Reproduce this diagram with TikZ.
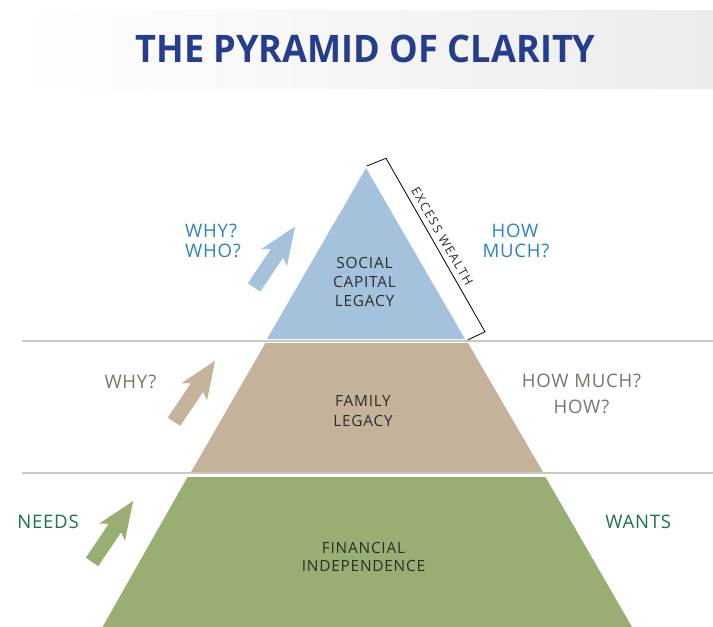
\documentclass[tikz,border=0pt]{standalone}
\usepackage{fontspec}
\setmainfont{Open Sans}
\usepackage{graphicx}
\definecolor{titleblue}{HTML}{253D8D}
\definecolor{bluefill}{HTML}{A4C2DC}
\definecolor{tanfill}{HTML}{C4B39A}
\definecolor{greenfill}{HTML}{98AE73}
\definecolor{bluetext}{HTML}{2A84C2}
\definecolor{tantext}{HTML}{7B746B}
\definecolor{greentext}{HTML}{1B744A}
\definecolor{darktext}{HTML}{2D2D2D}
\definecolor{rulegray}{HTML}{C9C9C9}
\tikzset{
  tier/.style={inner sep=0pt, text=darktext, font=\fontsize{15.4}{19}\selectfont\addfontfeatures{LetterSpace=5}},
  side/.style={inner sep=0pt, font=\fontsize{18.6}{22}\selectfont\addfontfeatures{LetterSpace=4}},
  exc/.style={inner sep=0pt, text=darktext, font=\fontsize{12.5}{14}\selectfont\addfontfeatures{LetterSpace=12}},
  rule/.style={draw=rulegray, line width=1.3pt},
  bracket/.style={draw=black, line width=0.8pt},
  uparrow/.pic={\fill[pic actions] (0,7.5) -- (41,7.5) -- (36,15.5) -- (73.5,0) -- (36,-15.5) -- (41,-7.5) -- (0,-7.5) -- cycle;}
}
\begin{document}
\begin{tikzpicture}[x=1pt,y=-1pt]
\useasboundingbox (0,0) rectangle (713,627);
% title band
\shade[left color=white, middle color=gray!42, right color=gray!15] (20,10) rectangle (713,88);
\node[anchor=base, inner sep=0pt, text=titleblue] (title) at (365.5,62)
  {\resizebox{460pt}{27.5pt}{\bfseries THE PYRAMID OF CLARITY}};
% rules
\coordinate (r1a) at (22,341); \coordinate (r1b) at (713,341);
\coordinate (r2a) at (22,473); \coordinate (r2b) at (713,473);
\draw[rule] (r1a) -- (r1b);
\draw[rule] (r2a) -- (r2b);
% pyramid tiers
\fill[bluefill] (366,168) -- (465,339) -- (267,339) -- cycle;
\fill[tanfill] (265.5,343) -- (468,343) -- (543,472) -- (191,472) -- cycle;
\fill[greenfill] (187.5,477) -- (545.5,477) -- (632,627) -- (102.5,627) -- cycle;
% bracket
\coordinate (bt0) at (366.7,166);
\coordinate (bt1) at (386,158.3);
\coordinate (bb1) at (485,331.7);
\coordinate (bb0) at (467.7,340);
\draw[bracket] (bt0) -- (bt1) -- node[pos=0.48, sloped, above=5pt, exc] (exw) {EXCESS WEALTH} (bb1) -- (bb0);
% arrows
\pic[fill=bluefill, rotate=56] at (254,287.5) {uparrow};
\pic[fill=tanfill, rotate=56] at (174,421.7) {uparrow};
\pic[fill=greenfill, rotate=56] at (92,562) {uparrow};
% tier labels
\node[tier, anchor=base] (soc1) at (364.5,268.3) {SOCIAL};
\node[tier, anchor=base] (soc2) at (364.5,287.7) {CAPITAL};
\node[tier, anchor=base] (soc3) at (364.5,306.7) {LEGACY};
\node[tier, anchor=base] (fam1) at (363,406.7) {FAMILY};
\node[tier, anchor=base] (fam2) at (363,426.7) {LEGACY};
\node[tier, anchor=base] (fin1) at (363.5,553.3) {FINANCIAL};
\node[tier, anchor=base] (fin2) at (363.5,571.7) {INDEPENDENCE};
% side labels
\node[side, text=bluetext, anchor=base west] (why1) at (185,237.3) {WHY?};
\node[side, text=bluetext, anchor=base west] (who1) at (185,257.3) {WHO?};
\node[side, text=bluetext, anchor=base] (how1) at (515,237.3) {HOW};
\node[side, text=bluetext, anchor=base] (much1) at (516,257.5) {MUCH?};
\node[side, text=tantext, anchor=base] (why2) at (130.5,388) {WHY?};
\node[side, text=tantext, anchor=base] (howmuch2) at (581.5,387) {HOW MUCH?};
\node[side, text=tantext, anchor=base] (how2) at (581.5,413.3) {HOW?};
\node[side, text=greentext, anchor=base] (needs) at (48,528.3) {NEEDS};
\node[side, text=greentext, anchor=base] (wants) at (638.3,528.3) {WANTS};
\end{tikzpicture}
\end{document}
